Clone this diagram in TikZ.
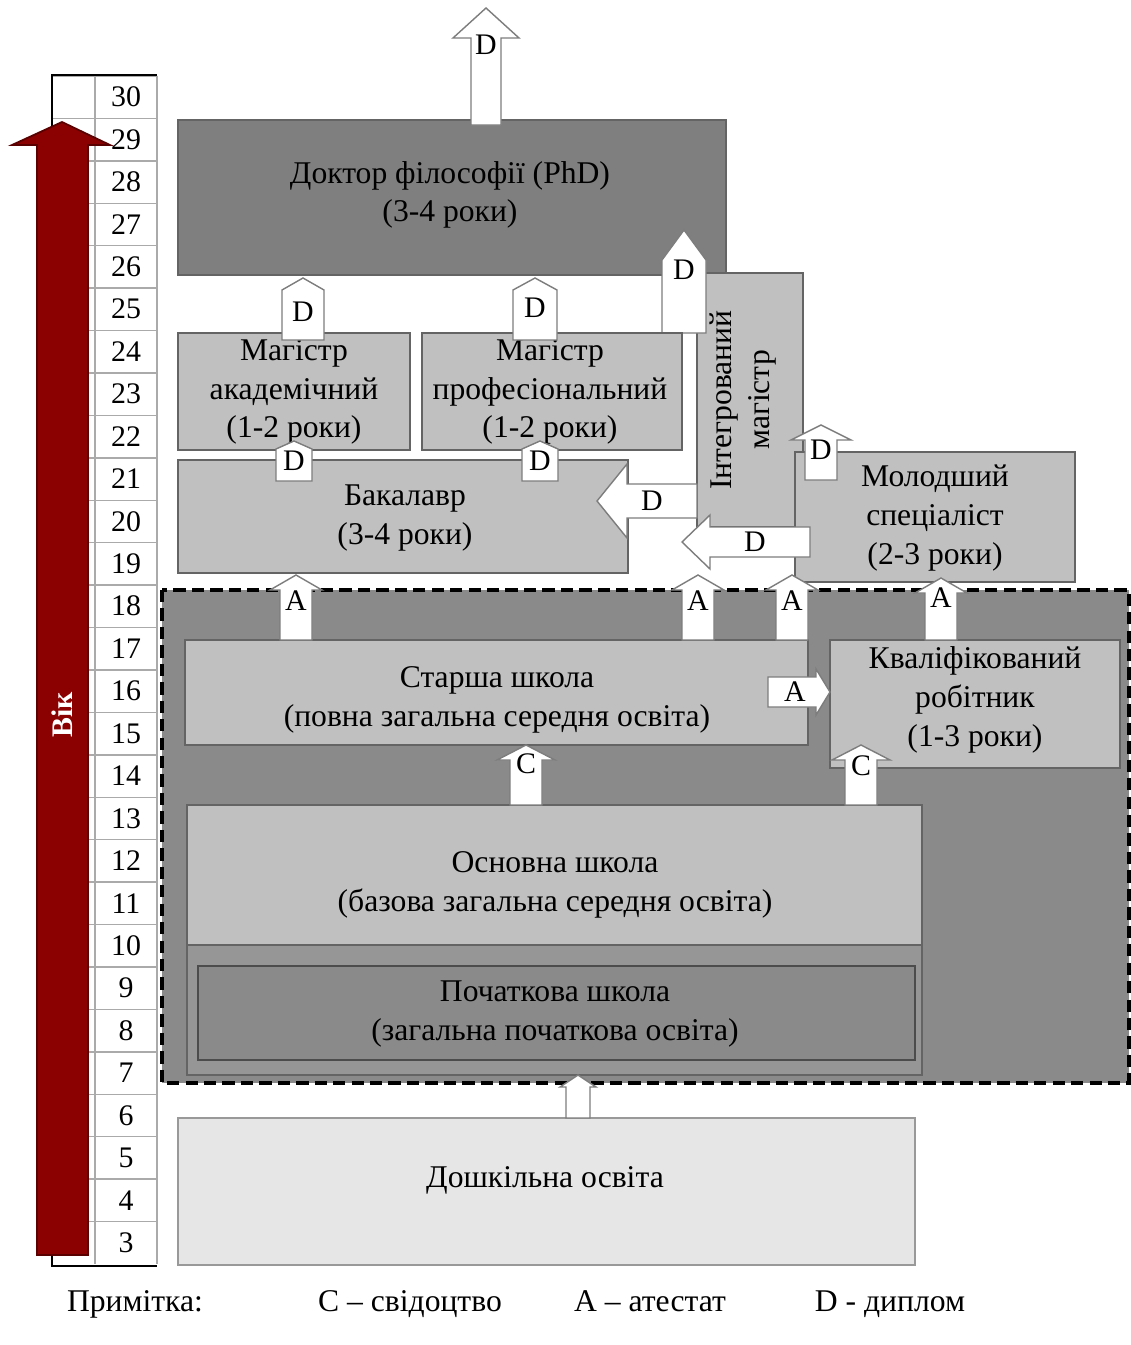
\documentclass[tikz,border=0pt]{standalone}
\usepackage{fontspec}
\setmainfont{Liberation Serif}
\usepackage{tikz}
\definecolor{lightbox}{RGB}{192,192,192}
\definecolor{darkbox}{RGB}{127,127,127}
\definecolor{zone}{RGB}{138,138,138}
\definecolor{boxline}{RGB}{100,100,100}
\definecolor{arrowline}{RGB}{125,125,125}
\definecolor{agered}{RGB}{139,0,0}
\definecolor{agedark}{RGB}{90,0,0}
\definecolor{preschool}{RGB}{230,230,230}
\definecolor{gridgrey}{RGB}{170,170,170}
\tikzset{
  box/.style={draw=boxline, line width=1.2pt, fill=lightbox},
  boxtext/.style={align=center, font=\fontsize{18}{22}\selectfont, inner sep=0pt},
  blockarrow/.style={draw=arrowline, fill=white, line width=0.8pt, line join=miter},
  tag/.style={font=\fontsize{17}{17}\selectfont, inner sep=0pt},
  num/.style={font=\fontsize{17}{17}\selectfont, inner sep=0pt},
  gridline/.style={draw=gridgrey, line width=0.8pt}
}
% up arrow: x, bottom, tip, half width, head ext, head length, label, label y
\newcommand{\uparr}[8]{%
  \draw[blockarrow] ({#1-#4},#2) -- ({#1-#4},{#3+#6}) -- ({#1-#4-#5},{#3+#6}) -- (#1,#3)
    -- ({#1+#4+#5},{#3+#6}) -- ({#1+#4},{#3+#6}) -- ({#1+#4},#2) -- cycle;
  \node[tag] (u#1-#2) at (#1,#8) {#7};}
% side arrow: tip x, base x, y, half width, head ext, head length (signed), label, label x
\newcommand{\sidearr}[8]{%
  \draw[blockarrow] (#2,{#3-#4}) -- ({#1+(#6)},{#3-#4}) -- ({#1+(#6)},{#3-#4-#5}) -- (#1,#3)
    -- ({#1+(#6)},{#3+#4+#5}) -- ({#1+(#6)},{#3+#4}) -- (#2,{#3+#4}) -- cycle;
  \node[tag] (s#1-#3) at (#8,#3) {#7};}
\begin{document}
\begin{tikzpicture}[x=0.02cm, y=-0.02cm]
\useasboundingbox (0,0) rectangle (1131,1345);
\fill[white] (0,0) rectangle (1131,1345);

% school zone
\draw[fill=zone, draw=black, line width=2pt, dash pattern=on 7pt off 3.5pt] (162,590) rectangle (1129,1083);

% age scale
\foreach \n [count=\i from 0] in {30,29,...,3} {
  \draw[gridline] (52,{76+\i*42.43}) -- (157,{76+\i*42.43});
  \node[num] (n\n) at (126,{97+\i*42.43}) {\n};
}
\draw[gridline] (95,76) -- (95,1264) (157,76) -- (157,1264);
\draw[black, line width=1.5pt] (157,75) -- (52,75) -- (52,1266) -- (157,1266);
\draw[fill=agered, draw=agedark, line width=1pt] (37,1255) -- (37,145) -- (12,145) -- (62,122)
  -- (110,145) -- (88,145) -- (88,1255) -- cycle;
\node[rotate=90, text=white, font=\fontsize{17}{17}\selectfont\bfseries] (age) at (62,715) {Вік};

% higher education
\draw[box, fill=darkbox] (178,120) rectangle (726,275);
\node[boxtext] (phd) at (450,195) {Доктор філософії (PhD)\\(3-4 роки)};
\uparr{486}{125}{8}{15}{18}{30}{D}{45}
\draw[box] (697,273) rectangle (803,527);
\node[boxtext, rotate=90] (integr) at (743,400) {Інтегрований\\магістр};
\uparr{684}{333}{230}{22}{0}{30}{D}{270}
\draw[box] (178,333) rectangle (410,450);
\node[boxtext] (maga) at (294,392) {Магістр\\академічний\\(1-2 роки)};
\draw[box] (422,333) rectangle (682,450);
\node[boxtext] (magp) at (550,392) {Магістр\\професіональний\\(1-2 роки)};
\uparr{303}{340}{278}{21}{0}{12}{D}{312}
\uparr{535}{340}{278}{22}{0}{12}{D}{308}
\draw[box] (178,460) rectangle (628,573);
\node[boxtext] (bak) at (405,518) {Бакалавр\\(3-4 роки)};
\sidearr{597}{697}{501}{17}{20}{30}{D}{652}
\uparr{294}{481}{441}{18}{0}{8}{D}{461}
\uparr{540}{481}{441}{18}{0}{8}{D}{461}
\draw[box] (795,452) rectangle (1075,582);
\node[boxtext] (mol) at (935,518) {Молодший\\спеціаліст\\(2-3 роки)};
\uparr{821}{480}{425}{16}{14}{15}{D}{450}
\sidearr{682}{810}{542}{15}{12}{28}{D}{755}

% school
\draw[box] (185,640) rectangle (808,745);
\node[boxtext] (senior) at (497,700) {Старша школа\\(повна загальна середня освіта)};
\draw[box] (830,640) rectangle (1120,768);
\node[boxtext] (worker) at (975,700) {Кваліфікований\\робітник\\(1-3 роки)};
\sidearr{830}{768}{692}{15}{8}{-14}{А}{795}
\uparr{296}{640}{575}{16}{10}{15}{А}{601}
\uparr{698}{640}{575}{16}{10}{15}{А}{601}
\uparr{792}{640}{575}{16}{10}{15}{А}{601}
\uparr{941}{640}{578}{16}{10}{15}{А}{598}
\draw[box] (187,805) rectangle (922,945);
\node[boxtext] (basic) at (555,885) {Основна школа\\(базова загальна середня освіта)};
\uparr{526}{805}{745}{16}{13}{15}{С}{764}
\uparr{861}{805}{745}{16}{13}{15}{С}{766}
\draw[draw=boxline, line width=1.2pt, fill=zone!90!white] (187,945) rectangle (922,1075);
\draw[draw=black!70, line width=1.5pt, fill=zone] (198,966) rectangle (915,1060);
\node[boxtext] (primary) at (555,1014) {Початкова школа\\(загальна початкова освіта)};

% preschool
\draw[box, fill=preschool, draw=black!40] (178,1118) rectangle (915,1265);
\node[boxtext] (presch) at (545,1180) {Дошкільна освіта};
\uparr{578}{1118}{1075}{12}{6}{12}{}{1100}

% legend
\node[boxtext, anchor=base] (note) at (135,1311) {Примітка:};
\node[boxtext, anchor=base] (legc) at (410,1311) {С – свідоцтво};
\node[boxtext, anchor=base] (lega) at (650,1311) {А – атестат};
\node[boxtext, anchor=base] (legd) at (890,1311) {D - диплом};
\end{tikzpicture}
\end{document}
